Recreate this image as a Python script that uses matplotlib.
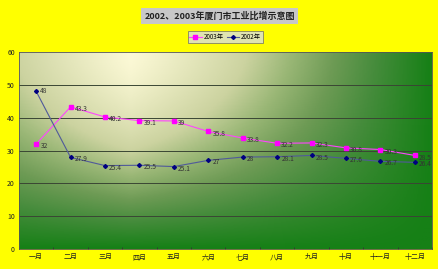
import numpy as np
import matplotlib
matplotlib.use("Agg")
import matplotlib.pyplot as plt
from matplotlib.colors import LinearSegmentedColormap

plt.rcParams['font.family'] = ['Noto Sans CJK SC', 'DejaVu Sans']

months = ["一月", "二月", "三月", "四月", "五月", "六月", "七月", "八月", "九月", "十月", "十一月", "十二月"]
s2003 = [32, 43.3, 40.2, 39.1, 39, 35.8, 33.8, 32.2, 32.3, 30.8, 30.3, 28.5]
s2002 = [48, 27.9, 25.4, 25.5, 25.1, 27, 28, 28.1, 28.5, 27.6, 26.7, 26.4]
yticks = [0, 10, 20, 30, 40, 50, 60]

W, H = 439, 269
fig = plt.figure(figsize=(W / 100, H / 100), dpi=100, facecolor="#ffff00")
ax = fig.add_axes([19 / W, 1 - 249 / H, 413 / W, 197 / H])

# gradient background
nx, ny = 300, 200
xx, yy = np.meshgrid(np.linspace(0, 1, nx), np.linspace(1, 0, ny))
tx = np.clip(np.abs(xx - 0.27) / 0.73, 0, 1) ** 1.1
ty = np.clip((1 - yy), 0, 1) ** 1.5
t = 1 - (1 - tx) * (1 - ty)
cmap = LinearSegmentedColormap.from_list("g", [(0, "#fcf9d6"), (0.35, "#ccd3a0"), (0.5, "#9ab776"),
                                               (0.65, "#6e9b55"), (0.8, "#468c3c"), (1, "#168016")])
ax.imshow(t, cmap=cmap, extent=[0, 1, 0, 1], transform=ax.transAxes, aspect="auto", zorder=0, vmin=0, vmax=1)

x = np.arange(len(months))
ax.set_xlim(-0.5, len(months) - 0.5)
ax.set_ylim(0, 60)
ax.set_yticks(yticks)
ax.set_xticks(x)
ax.set_xticklabels(months)
ax.set_xticks(np.arange(-0.5, len(months), 1), minor=True)
for yv in yticks[1:-1]:
    ax.axhline(yv, color="#3a4634", lw=0.7, zorder=1)

ax.plot(x, s2003, color="#ff44ff", lw=0.8, marker="s", ms=2.6, mfc="#ff00ff", mec="#ff00ff", zorder=3, label="2003年")
ax.plot(x, s2002, color="#505a9a", lw=0.8, marker="D", ms=2.0, mfc="#000080", mec="#000080", zorder=3, label="2002年")

for xi, v in zip(x, s2003):
    ax.annotate(f"{v:g}", (xi, v), xytext=(3, -1.5), textcoords="offset points", fontsize=4.8, color="#333333", va="center", ha="left", zorder=4)
for xi, v in zip(x, s2002):
    ax.annotate(f"{v:g}", (xi, v), xytext=(3, -1.5) if xi else (3, 0), textcoords="offset points", fontsize=4.8, color="#333333", va="center", ha="left", zorder=4)

ax.tick_params(axis="both", which="major", labelsize=5, colors="#222222", length=0, pad=3)
ax.tick_params(axis="x", which="minor", direction="in", length=1.5, color="#333333", width=0.6)
for sp in ax.spines.values():
    sp.set_color("#555555")
    sp.set_linewidth(0.6)

fig.text(0.5, 1 - 16 / H, "2002、2003年厦门市工业比增示意图", ha="center", va="center", fontsize=6.5, fontweight="bold",
         style="italic", color="#222222", bbox=dict(boxstyle="square,pad=0.35", fc="#c8c8c8", ec="none"))

leg = fig.legend(loc="center", bbox_to_anchor=(225 / W, 1 - 37 / H), ncol=2, fontsize=4.5, frameon=True,
                 handlelength=2.0, handletextpad=0.3, columnspacing=0.5, borderpad=0.25, fancybox=False)
leg.get_frame().set_facecolor("#d8dee0")
leg.get_frame().set_edgecolor("#666666")
leg.get_frame().set_linewidth(0.6)

fig.savefig("out.png", dpi=100, facecolor=fig.get_facecolor())
